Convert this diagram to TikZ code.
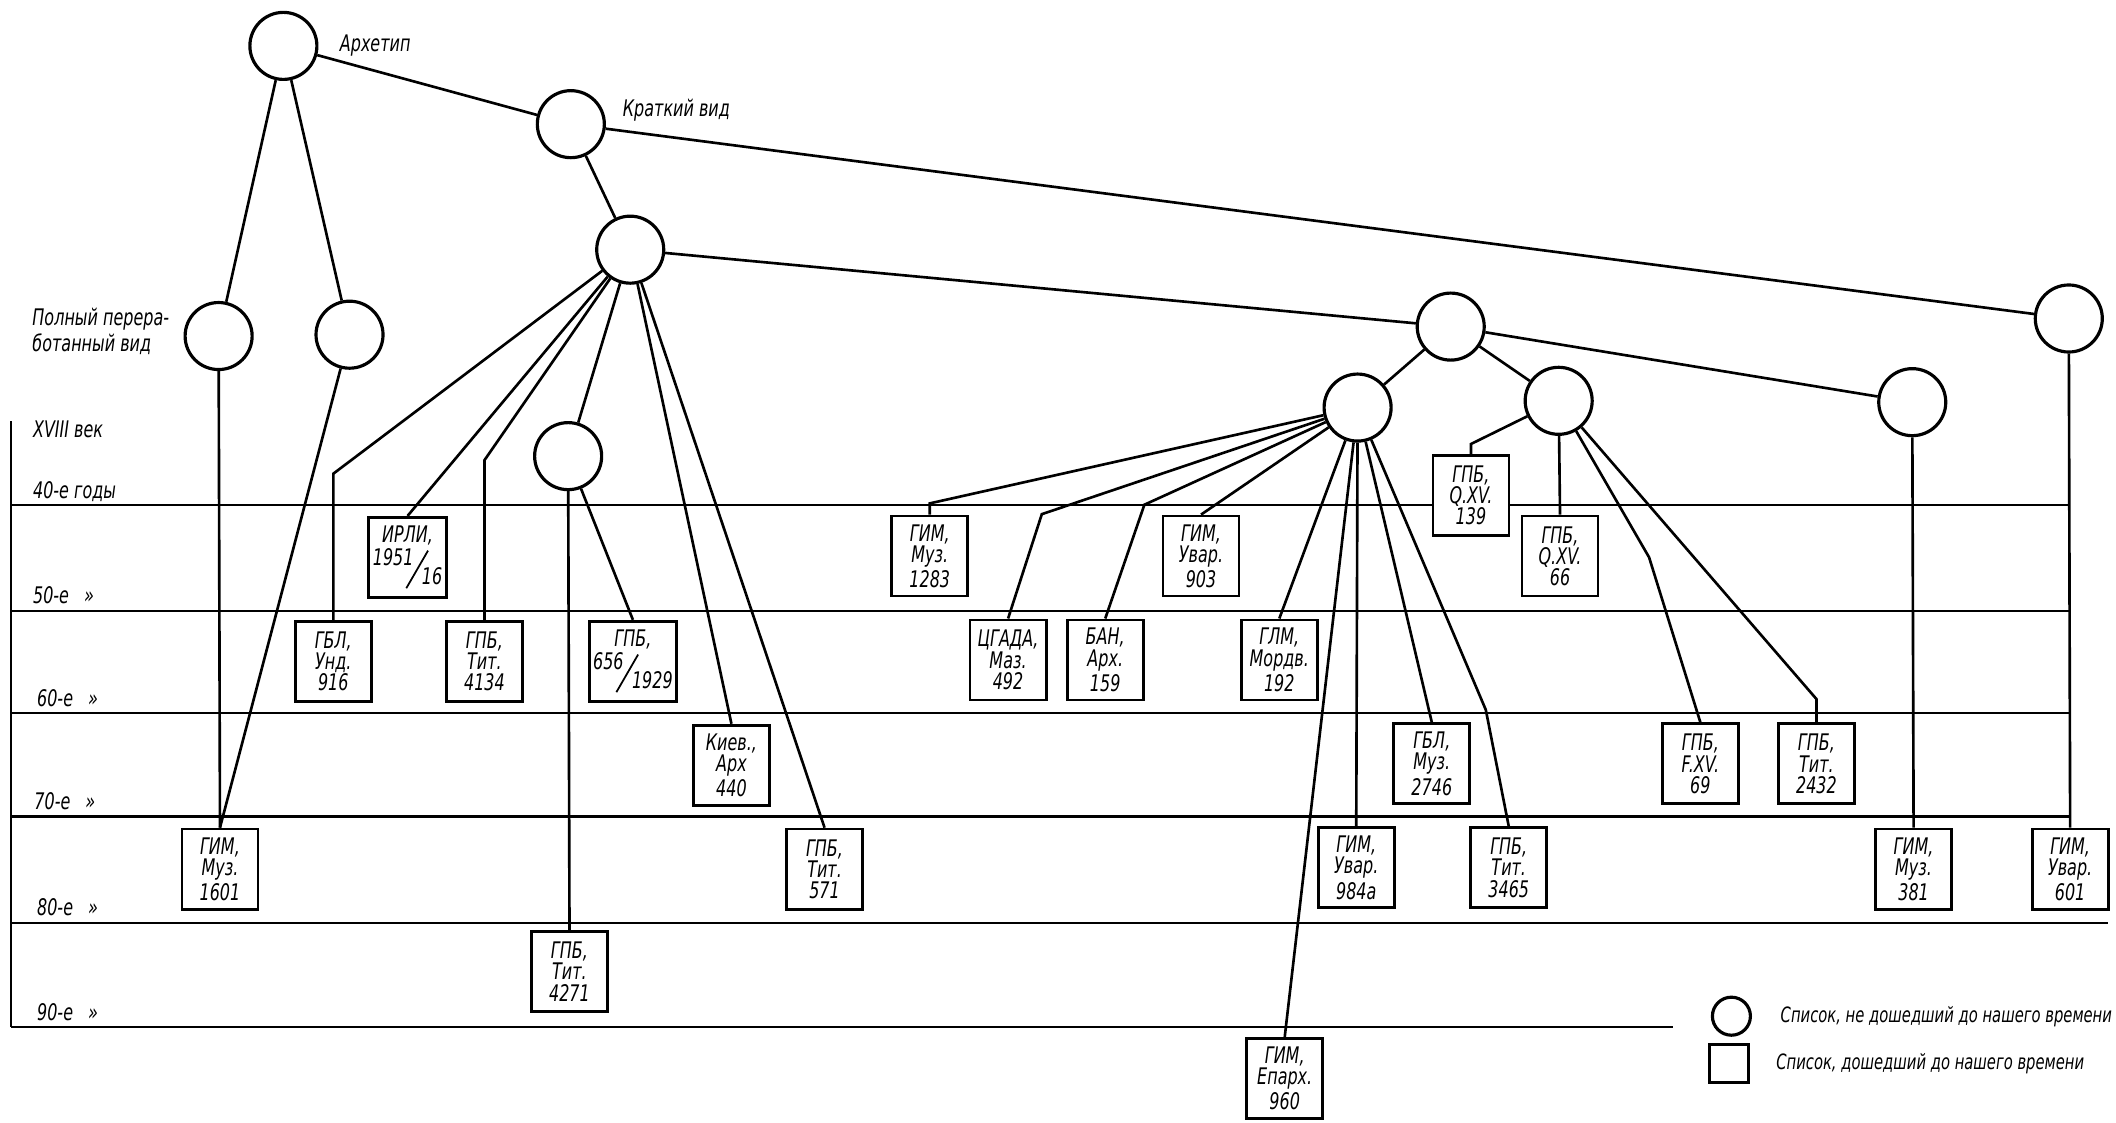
\documentclass[tikz,border=0pt]{standalone}
\usepackage{fontspec}
\setmainfont{DejaVu Sans}[FakeStretch=0.7]
\usepackage{graphicx}
\usepackage{tikz}
\usetikzlibrary{positioning}
\tikzset{lostlist/.style={circle,draw,line width=0.9pt,fill=white,inner sep=0pt,minimum size=6.7mm},
  keptlist/.style={rectangle,draw,line width=0.8pt,fill=white,inner sep=0.4mm,
    minimum width=7.6mm,minimum height=8mm,align=center,
    font=\fontsize{6.5}{6}\selectfont\itshape},
  link/.style={line width=0.75pt},
  era/.style={line width=0.6pt},
  eralabel/.style={anchor=west,inner sep=0pt,font=\fontsize{6.5}{7}\selectfont\itshape},
  note/.style={font=\fontsize{6.5}{6}\selectfont\itshape,align=left}}
\newcommand{\slfrac}[2]{\raisebox{.8em}{#1}\kern-.35em\raisebox{-.2em}{\rotatebox{60}{\rule{1.9em}{.5pt}}}\kern-.3em#2}

\begin{document}
\begin{tikzpicture}[x=0.1349mm, y=-0.1349mm]
    \useasboundingbox (0,0) rectangle (1568,832);

    % time scale
    \draw[era] (8,312) -- (8,761);
    \foreach \y in {374,453,528,605}
      \draw[era] (8,\y) -- (1534,\y);
    \draw[era] (8,684) -- (1562,684);
    \draw[era] (8,761) -- (1240,761);

    \node[eralabel] (e-18) at (24,318) {XVIII век};
    \node[eralabel] (e-40) at (24,364) {40-е годы};
    \node[eralabel] (e-50) at (24,441) {50-е\hspace{1.5mm}»};
    \node[eralabel] (e-60) at (27,517) {60-е\hspace{1.5mm}»};
    \node[eralabel] (e-70) at (25,594) {70-е\hspace{1.5mm}»};
    \node[eralabel] (e-80) at (27,672) {80-е\hspace{1.5mm}»};
    \node[eralabel] (e-90) at (27,750) {90-е\hspace{1.5mm}»};

    % lost copies
    \node[lostlist, label={[note,label distance=0.9mm]0:Архетип}] (arch) at (210,34) {};
    \node[lostlist, label={[note,label distance=0.45mm,yshift=1.4mm]0:Краткий вид}] (krat) at (423,92) {};
    \node[lostlist, label={[note,label distance=0.2mm,yshift=0.5mm]180:Полный перера-\\ботанный вид}] (full) at (162,249) {};
    \node[lostlist] (full2) at (259,248) {};
    \node[lostlist] (s1) at (467,185) {};
    \node[lostlist] (s2) at (421,338) {};
    \node[lostlist] (m1) at (1075,242) {};
    \node[lostlist] (m2) at (1006,302) {};
    \node[lostlist] (m3) at (1155,297) {};
    \node[lostlist] (m4) at (1417,298) {};
    \node[lostlist] (far) at (1533,236) {};

    % surviving copies
    \node[keptlist] (b-irli) at (302,413) {ИРЛИ,\\\slfrac{1951}{16}};
    \node[keptlist] (b-916) at (247,490) {ГБЛ,\\Унд.\\916};
    \node[keptlist] (b-4134) at (359,490) {ГПБ,\\Тит.\\4134};
    \node[keptlist] (b-656) at (469,490) {ГПБ,\\\slfrac{656}{1929}};
    \node[keptlist] (b-440) at (542,567) {Киев.,\\Арх\\440};
    \node[keptlist] (b-1601) at (163,644) {ГИМ,\\Муз.\\1601};
    \node[keptlist] (b-4271) at (422,720) {ГПБ,\\Тит.\\4271};
    \node[keptlist] (b-571) at (611,644) {ГПБ,\\Тит.\\571};
    \node[keptlist] (b-1283) at (689,412) {ГИМ,\\Муз.\\1283};
    \node[keptlist] (b-492) at (747,489) {ЦГАДА,\\Маз.\\492};
    \node[keptlist] (b-159) at (819,489) {БАН,\\Арх.\\159};
    \node[keptlist] (b-903) at (890,412) {ГИМ,\\Увар.\\903};
    \node[keptlist] (b-192) at (948,489) {ГЛМ,\\Мордв.\\192};
    \node[keptlist] (b-139) at (1090,367) {ГПБ,\\Q.XV.\\139};
    \node[keptlist] (b-66) at (1156,412) {ГПБ,\\Q.XV.\\66};
    \node[keptlist] (b-2746) at (1061,566) {ГБЛ,\\Муз.\\2746};
    \node[keptlist] (b-69) at (1260,566) {ГПБ,\\F.XV.\\69};
    \node[keptlist] (b-2432) at (1346,566) {ГПБ,\\Тит.\\2432};
    \node[keptlist] (b-984) at (1005,643) {ГИМ,\\Увар.\\984а};
    \node[keptlist] (b-3465) at (1118,643) {ГПБ,\\Тит.\\3465};
    \node[keptlist] (b-381) at (1418,644) {ГИМ,\\Муз.\\381};
    \node[keptlist] (b-601) at (1534,644) {ГИМ,\\Увар.\\601};
    \node[keptlist] (b-960) at (952,799) {ГИМ,\\Епарх.\\960};

    % bends
    \coordinate (k-916) at (247,351);
    \coordinate (k-4134) at (359,341);
    \coordinate (k-1283) at (689,373);
    \coordinate (k-492) at (772,381);
    \coordinate (k-159) at (848,374);
    \coordinate (k-3465) at (1101,526);
    \coordinate (k-139) at (1090,329);
    \coordinate (k-69) at (1222,413);
    \coordinate (k-2432) at (1346,518);

    \draw[link] (arch) -- (full);
    \draw[link] (arch) -- (full2);
    \draw[link] (arch) -- (krat);
    \draw[link] (krat) -- (s1);
    \draw[link] (krat) -- (far);
    \draw[link] (full) -- (b-1601.north);
    \draw[link] (full2) -- (b-1601.north);

    \draw[link] (s1) -- (k-916) -- (b-916.north);
    \draw[link] (s1) -- (b-irli.north);
    \draw[link] (s1) -- (k-4134) -- (b-4134.north);
    \draw[link] (s1) -- (s2);
    \draw[link] (s2) -- (b-4271.north);
    \draw[link] (s2) -- (b-656.north);
    \draw[link] (s1) -- (b-440.north);
    \draw[link] (s1) -- (b-571.north);
    \draw[link] (s1) -- (m1);

    \draw[link] (m1) -- (m2);
    \draw[link] (m1) -- (m3);
    \draw[link] (m1) -- (m4);

    \draw[link] (m2) -- (k-1283) -- (b-1283.north);
    \draw[link] (m2) -- (k-492) -- (b-492.north);
    \draw[link] (m2) -- (k-159) -- (b-159.north);
    \draw[link] (m2) -- (b-903.north);
    \draw[link] (m2) -- (b-192.north);
    \draw[link] (m2) -- (b-960.north);
    \draw[link] (m2) -- (b-984.north);
    \draw[link] (m2) -- (b-2746.north);
    \draw[link] (m2) -- (k-3465) -- (b-3465.north);

    \draw[link] (m3) -- (k-139) -- (b-139.north);
    \draw[link] (m3) -- (b-66.north);
    \draw[link] (m3) -- (k-69) -- (b-69.north);
    \draw[link] (m3) -- (k-2432) -- (b-2432.north);

    \draw[link] (m4) -- (b-381.north);
    \draw[link] (far) -- (b-601.north);

    % legend
    \node[lostlist, minimum size=3.8mm] (leg-lost) at (1283,753) {};
    \node[keptlist, minimum width=3.9mm, minimum height=3.8mm] (leg-kept) at (1281,788) {};
    \node[note, font=\fontsize{6}{6}\selectfont\itshape, inner sep=0pt, right=2.8mm of leg-lost] (leg-lost-t) {Список, не дошедший до нашего времени};
    \node[note, font=\fontsize{6}{6}\selectfont\itshape, inner sep=0pt, right=2.6mm of leg-kept] (leg-kept-t) {Список, дошедший до нашего времени};
\end{tikzpicture}
\end{document}
